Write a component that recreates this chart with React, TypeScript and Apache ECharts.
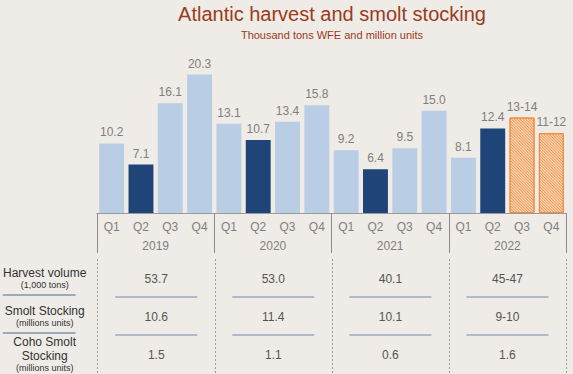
import React, { useEffect, useRef } from "react";
import * as echarts from "echarts";

const years = ["2019", "2020", "2021", "2022"];
const quarters = ["Q1", "Q2", "Q3", "Q4"];
const categories = years.flatMap((y) => quarters.map((q) => `${q} ${y}`));
const harvest = [10.2, 7.1, 16.1, 20.3, 13.1, 10.7, 13.4, 15.8, 9.2, 6.4, 9.5, 15.0, 8.1, 12.4, 14.0, 11.7];
const barLabels = ["10.2", "7.1", "16.1", "20.3", "13.1", "10.7", "13.4", "15.8", "9.2", "6.4", "9.5", "15.0", "8.1", "12.4", "13-14", "11-12"];
const barKind = ["l", "d", "l", "l", "l", "d", "l", "l", "l", "d", "l", "l", "l", "d", "f", "f"];

const tableRows = [
  "Harvest volume\n{s|(1,000 tons)}",
  "Smolt Stocking\n{s|(millions units)}",
  "Coho Smolt\nStocking\n{s|(millions units)}",
];
const harvestVolume = ["53.7", "53.0", "40.1", "45-47"];
const smoltStocking = ["10.6", "11.4", "10.1", "9-10"];
const cohoStocking = ["1.5", "1.1", "0.6", "1.6"];

const FONT = "'Liberation Sans', Arial, sans-serif";
const LIGHT = "#b9cde5";
const DARK = "#1f4578";
const ORANGE = "#ef8a3c";

export default function App() {
  const ref = useRef<HTMLDivElement>(null);
  useEffect(() => {
    if (!ref.current) return;
    document.body.style.margin = "0";
    const chart = echarts.init(ref.current, null, { renderer: "svg" });
    const tableData: any[] = [];
    [harvestVolume, smoltStocking, cohoStocking].forEach((row, r) =>
      row.forEach((v, c) => tableData.push([c, r, v]))
    );
    chart.setOption({
      animation: false,
      backgroundColor: "#efebe7",
      textStyle: { fontFamily: FONT },
      title: {
        text: "Atlantic harvest and smolt stocking",
        subtext: "Thousand tons WFE and million units",
        left: 332,
        top: 2,
        textAlign: "center",
        itemGap: 2,
        padding: 0,
        textStyle: { fontSize: 20, fontWeight: "normal", color: "#9a3b1c", fontFamily: FONT, lineHeight: 24 },
        subtextStyle: { fontSize: 11, color: "#9a3b1c", fontFamily: FONT, lineHeight: 14 },
      },
      grid: [
        { left: 97, right: 7, top: 63, height: 150 },
        { left: 97, right: 7, top: 259, height: 114 },
      ],
      xAxis: [
        {
          type: "category",
          gridIndex: 0,
          data: categories,
          axisLine: { show: true, lineStyle: { color: "#9a9a9a", width: 1 } },
          axisTick: { show: false },
          axisLabel: {
            interval: 0,
            color: "#7f7f7f",
            fontSize: 12,
            margin: 8,
            formatter: (v: string) => v.split(" ")[0],
          },
        },
        {
          type: "category",
          gridIndex: 0,
          position: "bottom",
          data: years,
          axisLine: { show: false },
          axisTick: { show: true, length: 40, interval: 0, lineStyle: { color: "#8c8c8c" } },
          axisLabel: { interval: 0, color: "#7f7f7f", fontSize: 12, margin: 27 },
        },
        {
          type: "category",
          gridIndex: 1,
          data: years,
          axisLine: { show: false },
          axisTick: { show: false },
          axisLabel: { show: false },
          splitLine: { show: true, interval: 0, lineStyle: { color: "#9a9a9a", type: [2, 2], width: 1 } },
        },
      ],
      yAxis: [
        { type: "value", gridIndex: 0, min: 0, max: 22, show: false, splitLine: { show: false } },
        {
          type: "category",
          gridIndex: 1,
          data: tableRows,
          inverse: true,
          axisLine: { show: false },
          axisTick: { show: false },
          splitLine: { show: false },
          axisLabel: {
            interval: 0,
            align: "center",
            margin: 53,
            color: "#333",
            fontSize: 12,
            lineHeight: 14,
            rich: { s: { fontSize: 9, lineHeight: 11, color: "#333" } },
          },
        },
      ],
      series: [
        {
          type: "bar",
          xAxisIndex: 0,
          yAxisIndex: 0,
          barCategoryGap: "15%",
          data: harvest.map((v, i) => ({
            value: v,
            itemStyle:
              barKind[i] === "f"
                ? {
                    color: "#f9dcc4",
                    borderColor: ORANGE,
                    borderWidth: 1,
                    decal: {
                      symbol: "rect",
                      symbolSize: 1,
                      color: "#f09a55",
                      dashArrayX: [1, 0],
                      dashArrayY: [1, 1],
                      rotation: Math.PI / 4,
                    },
                  }
                : { color: barKind[i] === "d" ? DARK : LIGHT },
          })),
          label: {
            show: true,
            position: "top",
            distance: 5,
            color: "#7f7f7f",
            fontSize: 12,
            formatter: (p: any) => barLabels[p.dataIndex],
          },
        },
        {
          type: "custom",
          xAxisIndex: 2,
          yAxisIndex: 1,
          data: tableData,
          renderItem: (params: any, api: any) => {
            const c = api.value(0);
            const r = api.value(1);
            const p = api.coord([c, r]);
            const bandH = api.size([0, 1])[1];
            const cs = params.coordSys;
            const children: any[] = [
              {
                type: "text",
                x: p[0],
                y: p[1] + 1,
                style: {
                  text: tableData[params.dataIndex][2],
                  align: "center",
                  verticalAlign: "middle",
                  fontSize: 12,
                  fill: "#555",
                  fontFamily: FONT,
                },
              },
            ];
            if (r < 2) {
              const ly = p[1] + bandH / 2;
              children.push({
                type: "line",
                shape: { x1: p[0] - 41, y1: ly, x2: p[0] + 41, y2: ly },
                style: { stroke: "#9aabc4", lineWidth: 1.5 },
              });
              if (c === 0) {
                children.push({
                  type: "line",
                  shape: { x1: cs.x - 95, y1: ly - 2, x2: cs.x - 22, y2: ly - 2 },
                  style: { stroke: "#4a6a96", lineWidth: 1 },
                });
              }
            }
            return { type: "group", children };
          },
        },
      ],
    });
    return () => chart.dispose();
  }, []);
  return <div ref={ref} style={{ width: 573, height: 374 }} />;
}
